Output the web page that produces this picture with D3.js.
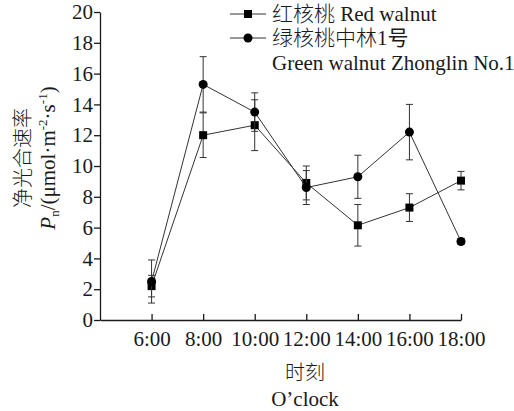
<!DOCTYPE html>
<meta charset="utf-8">
<title>Pn chart</title>
<script src="https://d3js.org/d3.v7.min.js"></script>
<style>
  body { margin: 0; background: #fff; }
  text { font-family: "Liberation Serif", "Noto Sans CJK SC", serif; fill: #1a1a1a; }
  .cjk { font-family: "Noto Sans CJK SC", sans-serif; font-weight: 300; }
</style>
<body>
</body>
<script>
var hours = [6, 8, 10, 12, 14, 16, 18];
var tickLabels = ["6:00", "8:00", "10:00", "12:00", "14:00", "16:00", "18:00"];
var redValues = [2.2, 12.0, 12.65, 8.9, 6.15, 7.3, 9.05];
var redErrors = [0.7, 1.45, 1.65, 1.1, 1.35, 0.9, 0.6];
var greenValues = [2.5, 15.3, 13.5, 8.6, 9.3, 12.2, 5.1];
var greenErrors = [1.4, 1.8, 1.25, 1.1, 1.4, 1.8, 0.2];
var yTicks = [0, 2, 4, 6, 8, 10, 12, 14, 16, 18, 20];

var series = [
  {cn: "红核桃", en: " Red walnut", shape: "square", values: redValues, errors: redErrors},
  {cn: "绿核桃中林", en: "1号", shape: "circle", values: greenValues, errors: greenErrors}
];

var svg = d3.select("body").append("svg")
            .attr("width", 514)
            .attr("height", 411);

var x = d3.scaleLinear().domain([4, 18]).range([100, 461]);
var y = d3.scaleLinear().domain([0, 20]).range([320, 12]);
var ink = "#1a1a1a";
var fs = "21px";

// axes
var xAxis = svg.append("g")
               .attr("transform", "translate(0,320)")
               .call(d3.axisBottom(x).tickValues(hours).tickSizeInner(-6).tickSizeOuter(0)
                     .tickFormat(function (d, i) { return tickLabels[i]; }));
xAxis.selectAll("text").attr("dy", "0").attr("y", 26).style("font-size", fs);
var yAxis = svg.append("g")
               .attr("transform", "translate(100,0)")
               .call(d3.axisLeft(y).tickValues(yTicks).tickSizeInner(6).tickSizeOuter(0));
yAxis.selectAll("text").attr("x", -7).style("font-size", fs);
svg.selectAll(".domain, .tick line").attr("stroke", ink).attr("stroke-width", 1.3);
svg.selectAll(".tick text").attr("fill", ink);

// series
var line = d3.line().x(function (d, i) { return x(hours[i]); }).y(function (d) { return y(d); });

series.forEach(function (s) {
  var g = svg.append("g");
  g.append("path").attr("d", line(s.values)).attr("fill", "none")
   .attr("stroke", "#333").attr("stroke-width", 1);
  var eb = g.selectAll(".eb").data(s.values).enter().append("g");
  eb.append("line")
    .attr("x1", function (d, i) { return x(hours[i]); })
    .attr("x2", function (d, i) { return x(hours[i]); })
    .attr("y1", function (d, i) { return y(d - s.errors[i]); })
    .attr("y2", function (d, i) { return y(d + s.errors[i]); })
    .attr("stroke", "#333").attr("stroke-width", 1);
  [-1, 1].forEach(function (sign) {
    eb.append("line")
      .attr("x1", function (d, i) { return x(hours[i]) - 3.5; })
      .attr("x2", function (d, i) { return x(hours[i]) + 3.5; })
      .attr("y1", function (d, i) { return y(d + sign * s.errors[i]); })
      .attr("y2", function (d, i) { return y(d + sign * s.errors[i]); })
      .attr("stroke", "#333").attr("stroke-width", 1);
  });
  if (s.shape === "square") {
    g.selectAll("rect").data(s.values).enter().append("rect")
     .attr("x", function (d, i) { return x(hours[i]) - 4; })
     .attr("y", function (d) { return y(d) - 4; })
     .attr("width", 8).attr("height", 8).attr("fill", "#000");
  } else {
    g.selectAll("circle").data(s.values).enter().append("circle")
     .attr("cx", function (d, i) { return x(hours[i]); })
     .attr("cy", function (d) { return y(d); })
     .attr("r", 4.5).attr("fill", "#000");
  }
});

// legend
var legend = svg.append("g");
series.forEach(function (s, i) {
  var ly = 14 + i * 24;
  legend.append("line").attr("x1", 230).attr("x2", 266).attr("y1", ly).attr("y2", ly)
        .attr("stroke", "#333").attr("stroke-width", 1);
  if (s.shape === "square") {
    legend.append("rect").attr("x", 244).attr("y", ly - 4).attr("width", 8).attr("height", 8).attr("fill", "#000");
  } else {
    legend.append("circle").attr("cx", 248).attr("cy", ly).attr("r", 4.5).attr("fill", "#000");
  }
  var t = legend.append("text").attr("x", 272).attr("y", ly + 7).style("font-size", fs);
  t.append("tspan").attr("class", "cjk").text(s.cn);
  t.append("tspan").text(s.en);
});
legend.append("text").attr("x", 272).attr("y", 70).style("font-size", fs).text("Green walnut Zhonglin No.1");

// axis titles
svg.append("text").attr("class", "cjk").attr("text-anchor", "middle").attr("x", 305).attr("y", 380)
   .style("font-size", "20px").text("时刻");
svg.append("text").attr("text-anchor", "middle").attr("x", 305).attr("y", 406)
   .style("font-size", fs).text("O’clock");

var yt = svg.append("g").attr("transform", "translate(0,158) rotate(-90)");
yt.append("text").attr("class", "cjk").attr("text-anchor", "middle").attr("x", 0).attr("y", 30)
  .style("font-size", "20px").text("净光合速率");
var t2 = yt.append("text").attr("text-anchor", "middle").attr("x", 0).attr("y", 55)
  .style("font-size", fs);
t2.append("tspan").style("font-style", "italic").text("P");
t2.append("tspan").attr("dy", 4).style("font-size", "13px").text("n");
t2.append("tspan").attr("dy", -4).text("/(μmol·m");
t2.append("tspan").attr("dy", -8).style("font-size", "13px").text("-2");
t2.append("tspan").attr("dy", 8).text("·s");
t2.append("tspan").attr("dy", -8).style("font-size", "13px").text("-1");
t2.append("tspan").attr("dy", 8).text(")");
</script>
